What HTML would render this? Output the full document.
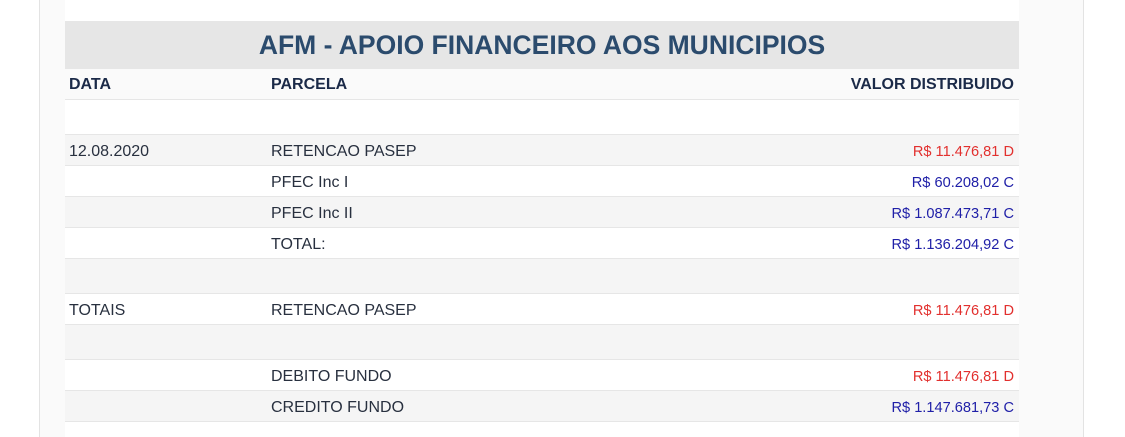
<!DOCTYPE html>
<html><head><meta charset="utf-8">
<style>
*{margin:0;padding:0;box-sizing:border-box}
html,body{width:1125px;height:437px;overflow:hidden;background:#fff;font-family:"Liberation Sans",Arial,sans-serif}
.panel{position:absolute;left:39px;top:0;width:1045px;height:437px;background:#fafafa;border-left:1px solid #e3e3e3;border-right:1px solid #e3e3e3}
.tbl{position:absolute;left:65px;top:0;width:954px;height:437px;background:#fff}
.band{position:absolute;left:0;width:954px;top:21px;height:48px;background:#e6e6e6;text-align:center;line-height:48px;font-weight:bold;font-size:26.5px;color:#2b4b6d}
.row{position:absolute;left:0;width:954px;border-top:1px solid #e6e6e6}
.hdr{top:69px;height:30px;background:#fafafa;border-top:none;font-weight:bold;font-size:16px;color:#1b2a48}
.hdr .c1,.hdr .c2,.hdr .c3{padding-top:2px}
.c1,.c2,.c3{position:absolute;top:0;height:100%;display:flex;align-items:center;white-space:nowrap}
.body .c1,.body .c2{padding-top:3px}
.body .c3{padding-top:3px}
.c1{left:4px}
.c2{left:206px}
.c3{right:5px}
.body{font-size:16px;color:#28303f}
.g{background:#f5f5f5}
.w{background:#fff}
.v{font-size:14.6px}
.r{color:#e2302e}
.b{color:#2020a8}
</style></head><body>
<div class="panel"></div>
<div class="tbl">
  <div class="band">AFM - APOIO FINANCEIRO AOS MUNICIPIOS</div>
  <div class="row hdr"><div class="c1">DATA</div><div class="c2">PARCELA</div><div class="c3">VALOR DISTRIBUIDO</div></div>
  <div class="row w body" style="top:99px;height:35px"></div>
  <div class="row g body" style="top:134px;height:31px"><div class="c1">12.08.2020</div><div class="c2">RETENCAO PASEP</div><div class="c3 v r">R$ 11.476,81 D</div></div>
  <div class="row w body" style="top:165px;height:31px"><div class="c2">PFEC Inc I</div><div class="c3 v b">R$ 60.208,02 C</div></div>
  <div class="row g body" style="top:196px;height:31px"><div class="c2">PFEC Inc II</div><div class="c3 v b">R$ 1.087.473,71 C</div></div>
  <div class="row w body" style="top:227px;height:31px"><div class="c2">TOTAL:</div><div class="c3 v b">R$ 1.136.204,92 C</div></div>
  <div class="row g body" style="top:258px;height:35px"></div>
  <div class="row w body" style="top:293px;height:31px"><div class="c1">TOTAIS</div><div class="c2">RETENCAO PASEP</div><div class="c3 v r">R$ 11.476,81 D</div></div>
  <div class="row g body" style="top:324px;height:35px"></div>
  <div class="row w body" style="top:359px;height:31px"><div class="c2">DEBITO FUNDO</div><div class="c3 v r">R$ 11.476,81 D</div></div>
  <div class="row g body" style="top:390px;height:31px"><div class="c2">CREDITO FUNDO</div><div class="c3 v b">R$ 1.147.681,73 C</div></div>
  <div class="row w" style="top:421px;height:16px"></div>
</div>
</body></html>
